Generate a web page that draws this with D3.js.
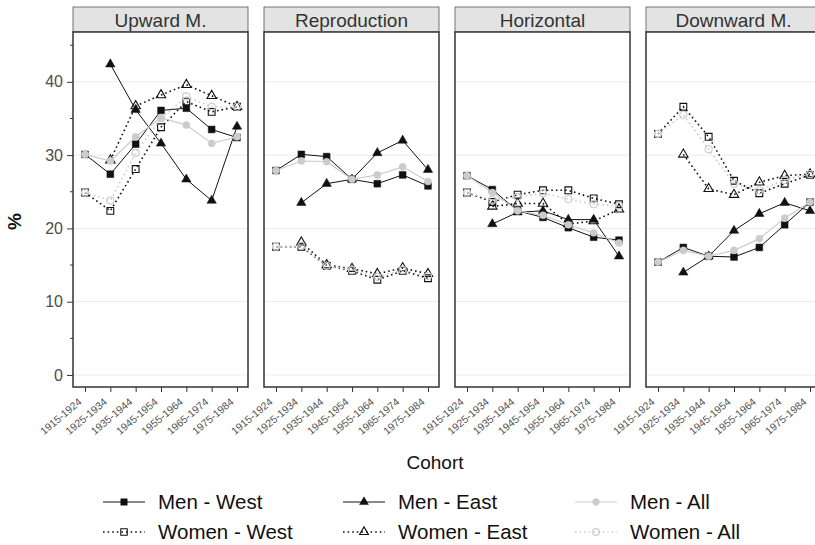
<!DOCTYPE html>
<html>
<head>
<meta charset="utf-8">
<script src="https://cdn.jsdelivr.net/npm/d3@7"></script>
<style>
  html, body { margin: 0; padding: 0; background: #fff; }
  svg { display: block; font-family: "Liberation Sans", Arial, Helvetica, sans-serif; }
</style>
</head>
<body>
<svg id="chart" width="815" height="545"></svg>
<script>
// Birth cohorts on the x axis and the four mobility types (one facet each)
const cohorts = ["1915-1924", "1925-1934", "1935-1944", "1945-1954", "1955-1964", "1965-1974", "1975-1984"];
const panels = ["Upward M.", "Reproduction", "Horizontal", "Downward M."];
const yTicks = [0, 10, 20, 30, 40];

// Shares (%) per facet: [Upward, Reproduction, Horizontal, Downward]; East starts with the 1925 cohort
const menWest = [
  [30.1, 27.4, 31.5, 36.1, 36.4, 33.5, 32.4],
  [27.9, 30.1, 29.8, 26.7, 26.1, 27.3, 25.8],
  [27.2, 25.3, 22.4, 21.5, 20.1, 18.8, 18.4],
  [15.4, 17.4, 16.2, 16.1, 17.4, 20.5, 23.6]
];
const menEast = [
  [null, 42.4, 36.2, 31.6, 26.7, 23.8, 33.9],
  [null, 23.5, 26.1, 26.7, 30.3, 32.0, 28.0],
  [null, 20.6, 22.2, 22.4, 21.2, 21.2, 16.2],
  [null, 14.0, 16.2, 19.7, 22.0, 23.5, 22.4]
];
const menAll = [
  [30.1, 29.2, 32.5, 35.1, 34.1, 31.6, 32.5],
  [27.9, 29.2, 29.1, 26.7, 27.3, 28.4, 26.4],
  [27.2, 24.9, 22.4, 21.8, 20.5, 19.4, 18.0],
  [15.4, 17.0, 16.2, 17.0, 18.6, 21.4, 23.6]
];
const womenWest = [
  [24.9, 22.4, 28.1, 33.8, 37.3, 35.9, 36.6],
  [17.5, 17.5, 14.9, 14.2, 13.0, 14.2, 13.2],
  [24.9, 23.6, 24.6, 25.2, 25.2, 24.1, 23.3],
  [32.9, 36.6, 32.5, 26.5, 24.8, 26.1, 27.3]
];
const womenEast = [
  [null, 29.3, 36.7, 38.2, 39.6, 38.1, 36.6],
  [null, 18.1, 15.0, 14.5, 13.8, 14.6, 13.8],
  [null, 23.0, 23.4, 23.4, 20.6, 21.0, 22.6],
  [null, 30.1, 25.4, 24.6, 26.3, 27.2, 27.4]
];
const womenAll = [
  [24.9, 23.8, 30.3, 35.0, 38.0, 36.6, 36.6],
  [17.5, 17.6, 14.9, 14.3, 13.4, 14.3, 13.5],
  [24.9, 23.9, 24.3, 24.8, 24.0, 23.3, 23.1],
  [32.9, 35.5, 30.8, 26.1, 25.2, 26.6, 27.4]
];

const GREY = "#cccccc";
// Series styles, in drawing order (grey "All" series on top)
const series = [
  { name: "Women - West", values: womenWest, color: "#111", dash: "1.6,3", width: 1.6, shape: "square", filled: false },
  { name: "Women - East", values: womenEast, color: "#111", dash: "1.6,3", width: 1.6, shape: "triangle", filled: false },
  { name: "Men - West", values: menWest, color: "#111", dash: null, width: 1, shape: "square", filled: true },
  { name: "Men - East", values: menEast, color: "#111", dash: null, width: 1, shape: "triangle", filled: true },
  { name: "Men - All", values: menAll, color: GREY, dash: null, width: 1.2, shape: "circle", filled: true },
  { name: "Women - All", values: womenAll, color: GREY, dash: "1.6,3", width: 1.6, shape: "circle", filled: false }
];
const legendOrder = [
  ["Men - West", "Men - East", "Men - All"],
  ["Women - West", "Women - East", "Women - All"]
];

const svg = d3.select("#chart");
const panelW = 175, panelStep = 191, firstLeft = 73;
const plotTop = 32, plotBottom = 387, stripTop = 7;

const y = d3.scaleLinear().domain([-1.64, 46.8]).range([plotBottom, plotTop]);

const symbolFor = s => s.shape === "square" ? d3.symbolSquare : s.shape === "triangle" ? d3.symbolTriangle : d3.symbolCircle;
const sizeFor = s => s.shape === "square" ? 46 : s.shape === "triangle" ? 38 : 40;

function drawMarker(g, s, cx, cy, scale = 1) {
  g.append("path")
    .attr("d", d3.symbol().type(symbolFor(s)).size(sizeFor(s) * scale)())
    .attr("transform", `translate(${cx},${cy})`)
    .attr("fill", s.filled ? s.color : "none")
    .attr("stroke", s.color)
    .attr("stroke-width", s.filled ? 0.5 : 1.1);
}

panels.forEach((title, p) => {
  const left = firstLeft + p * panelStep;
  const x = d3.scalePoint().domain(cohorts).range([left + 12, left + 164]);
  const g = svg.append("g");

  // Strip with facet title
  g.append("rect")
    .attr("x", left).attr("y", stripTop).attr("width", panelW).attr("height", plotTop - stripTop)
    .attr("fill", "#e3e3e3").attr("stroke", "#555").attr("stroke-width", 0.8);
  g.append("text")
    .attr("x", left + panelW / 2).attr("y", (stripTop + plotTop) / 2 + 7)
    .attr("text-anchor", "middle").attr("font-size", 19).attr("fill", "#333")
    .text(title);

  // Panel background and horizontal grid
  g.append("rect")
    .attr("x", left).attr("y", plotTop).attr("width", panelW).attr("height", plotBottom - plotTop)
    .attr("fill", "#fff");
  g.selectAll("line.grid").data(yTicks).join("line")
    .attr("class", "grid")
    .attr("x1", left).attr("x2", left + panelW)
    .attr("y1", d => y(d)).attr("y2", d => y(d))
    .attr("stroke", "#ebebeb").attr("stroke-width", 1);

  // Lines and markers
  const line = d3.line()
    .defined(d => d.v != null)
    .x(d => x(d.c)).y(d => y(d.v));
  series.forEach(s => {
    const pts = cohorts.map((c, i) => ({ c, v: s.values[p][i] }));
    g.append("path")
      .datum(pts)
      .attr("d", line)
      .attr("fill", "none")
      .attr("stroke", s.color)
      .attr("stroke-width", s.width)
      .attr("stroke-dasharray", s.dash)
      .attr("stroke-linecap", s.dash ? "butt" : "round");
    pts.filter(d => d.v != null).forEach(d => drawMarker(g, s, x(d.c), y(d.v)));
  });

  // Panel border
  g.append("rect")
    .attr("x", left).attr("y", plotTop).attr("width", panelW).attr("height", plotBottom - plotTop)
    .attr("fill", "none").attr("stroke", "#333").attr("stroke-width", 1.5);

  // X axis with rotated cohort labels
  const xAxis = g.append("g")
    .attr("transform", `translate(0,${plotBottom})`)
    .call(d3.axisBottom(x).tickSize(5).tickSizeOuter(0));
  xAxis.select(".domain").remove();
  xAxis.attr("font-family", null);
  xAxis.selectAll(".tick line").attr("stroke", "#333").attr("stroke-width", 1);
  xAxis.selectAll(".tick text")
    .attr("font-size", 10.5)
    .attr("fill", "#555")
    .attr("text-anchor", "end")
    .attr("x", 0).attr("y", 0).attr("dy", 0)
    .attr("transform", "translate(-3,16) rotate(-40)");

  // Y axis only on the first facet
  if (p === 0) {
    const minor = d3.range(5, 46, 10);
    g.selectAll("line.minor").data(minor).join("line")
      .attr("class", "minor")
      .attr("x1", left - 3).attr("x2", left)
      .attr("y1", d => y(d)).attr("y2", d => y(d))
      .attr("stroke", "#333").attr("stroke-width", 1);
    const yAxis = g.append("g")
      .attr("transform", `translate(${left},0)`)
      .call(d3.axisLeft(y).tickValues(yTicks).tickSize(6).tickSizeOuter(0));
    yAxis.select(".domain").remove();
    yAxis.attr("font-family", null);
    yAxis.selectAll(".tick line").attr("stroke", "#333");
    yAxis.selectAll(".tick text").attr("font-size", 16).attr("fill", "#4d4d4d").attr("x", -10);
  }
});

// Axis titles
svg.append("text")
  .attr("transform", `translate(21,${(plotTop + plotBottom) / 2 + 12}) rotate(-90)`)
  .attr("text-anchor", "middle").attr("font-size", 19).attr("font-weight", "bold").attr("fill", "#111")
  .text("%");
svg.append("text")
  .attr("x", 435).attr("y", 469)
  .attr("text-anchor", "middle").attr("font-size", 19).attr("fill", "#111")
  .text("Cohort");

// Legend
const legendCols = [103, 343, 575];
const legendRows = [502, 532];
legendOrder.forEach((row, r) => {
  row.forEach((name, c) => {
    const s = series.find(d => d.name === name);
    const lg = svg.append("g");
    const x0 = legendCols[c], cy = legendRows[r];
    lg.append("line")
      .attr("x1", x0).attr("x2", x0 + 42).attr("y1", cy).attr("y2", cy)
      .attr("stroke", s.color).attr("stroke-width", s.width)
      .attr("stroke-dasharray", s.dash);
    drawMarker(lg, s, x0 + 21, cy, 0.9);
    lg.append("text")
      .attr("x", x0 + 55).attr("y", cy + 7)
      .attr("font-size", 20.5).attr("fill", "#111")
      .text(name);
  });
});
</script>
</body>
</html>
